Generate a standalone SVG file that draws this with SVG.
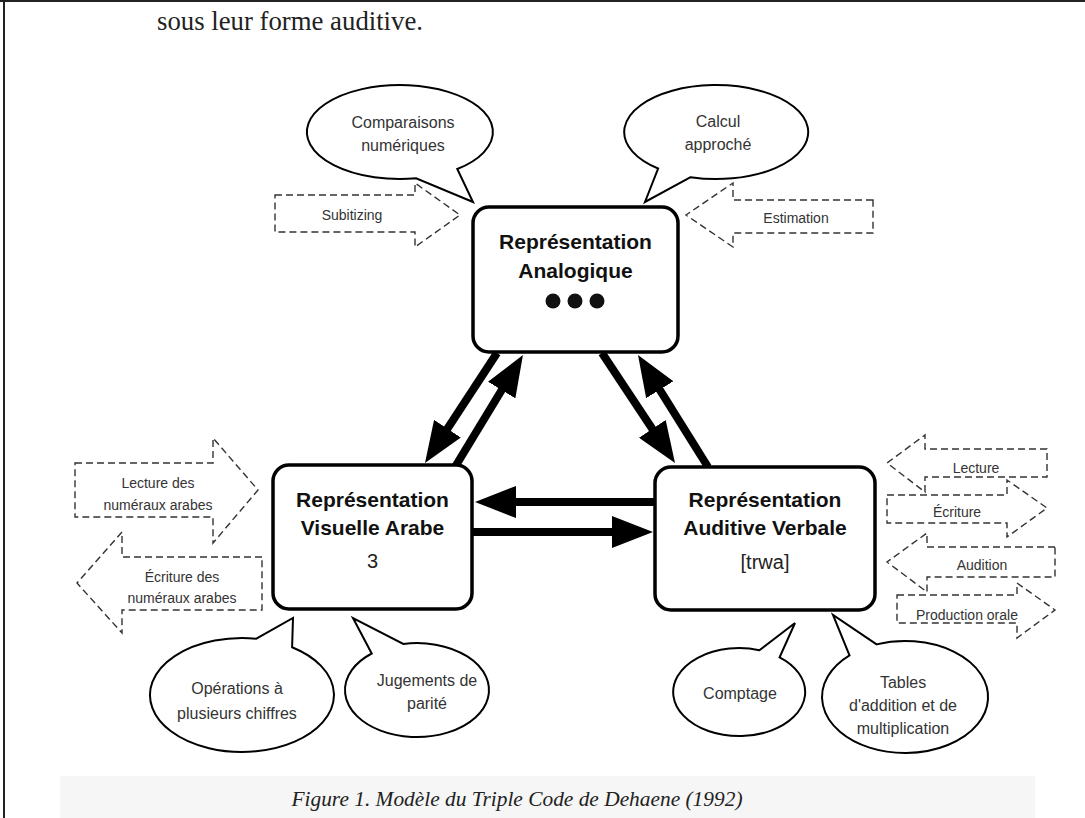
<svg xmlns="http://www.w3.org/2000/svg" width="1085" height="818" viewBox="0 0 1085 818">
<defs>
<style>
.box{fill:#fff;stroke:#000;stroke-width:3.5}
.bt{font-family:"Liberation Sans",Arial,sans-serif;font-weight:bold;font-size:21px;fill:#111;text-anchor:middle}
.bt3{font-family:"Liberation Sans",Arial,sans-serif;font-size:20px;fill:#222;text-anchor:middle}
.bal{fill:#fff;stroke:#000;stroke-width:2}
.ct{font-family:"Liberation Sans",Arial,sans-serif;font-size:16px;fill:#333;text-anchor:middle}
.da{fill:none;stroke:#333;stroke-width:1.4;stroke-dasharray:7 4}
.dt{font-family:"Liberation Sans",Arial,sans-serif;font-size:14px;fill:#333;text-anchor:middle}
.conn{stroke:#000;stroke-width:8;fill:none}
</style>
<marker id="head" markerUnits="userSpaceOnUse" viewBox="0 -16 41 32" refX="1" refY="0" markerWidth="41" markerHeight="32" orient="auto">
<path d="M0,-16 L41,0 L0,16 Z" fill="#000"/>
</marker>
</defs>
<rect width="1085" height="818" fill="#fff"/>
<rect x="60" y="776" width="975" height="42" fill="#f6f6f6"/>
<line x1="4" y1="0" x2="4" y2="818" stroke="#222" stroke-width="2"/>
<line x1="0" y1="1" x2="1085" y2="1" stroke="#222" stroke-width="2"/>
<text x="157" y="30" font-family="'Liberation Serif','Times New Roman',serif" font-size="27" fill="#222" textLength="266" lengthAdjust="spacingAndGlyphs">sous leur forme auditive.</text>

<g id="connectors">
<line class="conn" x1="497" y1="353" x2="446.9" y2="429.5" marker-end="url(#head)"/>
<line class="conn" x1="455" y1="467" x2="502.2" y2="389.2" marker-end="url(#head)"/>
<line class="conn" x1="602" y1="353" x2="652.9" y2="429.7" marker-end="url(#head)"/>
<line class="conn" x1="708" y1="467" x2="659.2" y2="388.9" marker-end="url(#head)"/>
<line class="conn" x1="655" y1="502" x2="515" y2="502" marker-end="url(#head)"/>
<line class="conn" x1="472" y1="532" x2="613" y2="532" marker-end="url(#head)"/>
</g>

<g id="analogique">
<rect class="box" x="473" y="207" width="205" height="145" rx="16"/>
<text class="bt" x="575.5" y="249">Représentation</text>
<text class="bt" x="575.5" y="278">Analogique</text>
<circle cx="553" cy="301" r="7.5" fill="#111"/>
<circle cx="575" cy="301" r="7.5" fill="#111"/>
<circle cx="597" cy="301" r="7.5" fill="#111"/>
</g>

<g id="visuelle">
<rect class="box" x="273" y="465" width="199" height="144" rx="16"/>
<text class="bt" x="372.5" y="507">Représentation</text>
<text class="bt" x="372.5" y="535">Visuelle Arabe</text>
<text class="bt3" x="372.5" y="568">3</text>
</g>

<g id="auditive">
<rect class="box" x="655" y="467" width="220" height="143" rx="16"/>
<text class="bt" x="765" y="507">Représentation</text>
<text class="bt" x="765" y="535">Auditive Verbale</text>
<text class="bt3" x="765" y="569">[trwa]</text>
</g>

<g id="comparaisons">
<path class="bal" d="M457.3,169.0 L473,202 L416.1,178.3 A93,47 0 1 1 457.3,169.0 Z"/>
<text class="ct" x="403" y="128">Comparaisons</text>
<text class="ct" x="403" y="151">numériques</text>
</g>

<g id="calcul">
<path class="bal" d="M690.6,177.2 L645,202 L658.1,168.5 A92,47 0 1 1 690.6,177.2 Z"/>
<text class="ct" x="718" y="127">Calcul</text>
<text class="ct" x="718" y="150">approché</text>
</g>

<g id="operations">
<path class="bal" d="M256.4,638.7 L293,618 L292.1,647.2 A92,57 0 1 1 256.4,638.7 Z"/>
<text class="ct" x="237" y="694">Opérations à</text>
<text class="ct" x="237" y="719">plusieurs chiffres</text>
</g>

<g id="jugements">
<path class="bal" d="M371.7,653.5 L353,618 L403.3,643.9 A72,47 0 1 1 371.7,653.5 Z"/>
<text class="ct" x="427" y="686">Jugements de</text>
<text class="ct" x="427" y="709">parité</text>
</g>

<g id="comptage">
<path class="bal" d="M759.4,650.2 L795,623 L779.6,657.3 A66,44 0 1 1 759.4,650.2 Z"/>
<text class="ct" x="740" y="699">Comptage</text>
</g>

<g id="tables">
<path class="bal" d="M849.5,655.4 L833,615 L876.6,644.4 A83,56 0 1 1 849.5,655.4 Z"/>
<text class="ct" x="903" y="688">Tables</text>
<text class="ct" x="903" y="711">d'addition et de</text>
<text class="ct" x="903" y="734">multiplication</text>
</g>

<g id="subitizing">
<polygon class="da" points="275,195 415,195 415,183 460,215 415,247 415,232 275,232"/>
<text class="dt" x="352" y="220">Subitizing</text>
</g>

<g id="estimation">
<polygon class="da" points="873,200 733,200 733,183 686,215 733,247 733,233 873,233"/>
<text class="dt" x="796" y="223">Estimation</text>
</g>

<g id="lecture-arabes">
<polygon class="da" points="75,463 213,463 213,438 258,490 213,543 213,517 75,517"/>
<text class="dt" x="158" y="488">Lecture des</text>
<text class="dt" x="158" y="510">numéraux arabes</text>
</g>

<g id="ecriture-arabes">
<polygon class="da" points="262,557 122,557 122,532 77,583 122,633 122,610 262,610"/>
<text class="dt" x="182" y="582">Écriture des</text>
<text class="dt" x="182" y="603">numéraux arabes</text>
</g>

<g id="lecture">
<polygon class="da" points="1047,449 925,449 925,435 887,463 925,492 925,477 1047,477"/>
<text class="dt" x="976" y="473">Lecture</text>
</g>

<g id="ecriture">
<polygon class="da" points="887,495 1007,495 1007,480 1047,508 1007,537 1007,523 887,523"/>
<text class="dt" x="957" y="517">Écriture</text>
</g>

<g id="audition">
<polygon class="da" points="1055,547 927,547 927,533 887,562 927,592 927,577 1055,577"/>
<text class="dt" x="982" y="570">Audition</text>
</g>

<g id="production">
<polygon class="da" points="897,595 1017,595 1017,583 1055,610 1017,638 1017,623 897,623"/>
<text class="dt" x="967" y="620">Production orale</text>
</g>

<text x="517" y="806" font-family="'Liberation Serif','Times New Roman',serif" font-style="italic" font-size="22" fill="#222" text-anchor="middle" textLength="451" lengthAdjust="spacingAndGlyphs">Figure 1. Modèle du Triple Code de Dehaene (1992)</text>
</svg>
